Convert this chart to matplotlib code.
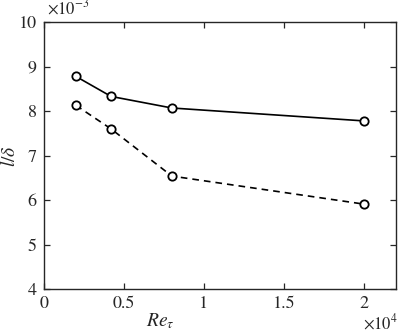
import matplotlib
matplotlib.use("Agg")
import matplotlib.pyplot as plt

plt.rcParams['font.family'] = ['STIXGeneral', 'Liberation Serif', 'DejaVu Serif']
plt.rcParams['mathtext.fontset'] = 'stix'

# data
re_tau = [2000, 4200, 8000, 20000]
l_delta_solid = [8.78e-3, 8.33e-3, 8.07e-3, 7.78e-3]
l_delta_dashed = [8.13e-3, 7.60e-3, 6.54e-3, 5.91e-3]
xticks = [0, 5000, 10000, 15000, 20000]
xtick_labels = ['0', '0.5', '1', '1.5', '2']
yticks = [4e-3, 5e-3, 6e-3, 7e-3, 8e-3, 9e-3, 10e-3]
ytick_labels = ['4', '5', '6', '7', '8', '9', '10']

axcol = '#262626'

fig = plt.figure(figsize=(3.99, 3.35), dpi=100)
ax = fig.add_axes([0.110, 0.137, 0.882, 0.797])

mk = dict(marker='o', markersize=6, markerfacecolor='white',
          markeredgecolor='black', markeredgewidth=1.3)
ax.plot(re_tau, l_delta_solid, '-', color='black', linewidth=1.2, **mk)
ax.plot(re_tau, l_delta_dashed, '--', color='black', linewidth=1.2,
        dashes=(4, 3), **mk)

ax.set_xlim(0, 22000)
ax.set_ylim(4e-3, 10e-3)
ax.set_xticks(xticks)
ax.set_xticklabels(xtick_labels)
ax.set_yticks(yticks)
ax.set_yticklabels(ytick_labels)

ax.tick_params(direction='in', length=4, width=0.9, colors=axcol,
               labelsize=13, top=True, right=True, pad=5)
for s in ax.spines.values():
    s.set_color(axcol)
    s.set_linewidth(1.0)

ax.set_xlabel(r'$Re_\tau$', fontsize=14, color=axcol)
ax.set_ylabel(r'$l/\delta$', fontsize=14, color=axcol)
ax.xaxis.set_label_coords(0.33, -0.085)
ax.yaxis.set_label_coords(-0.072, 0.5)

fig.text(0.118, 0.945, r'$\times10^{-3}$', fontsize=12, color=axcol,
         ha='left', va='bottom')
fig.text(0.998, 0.005, r'$\times10^{4}$', fontsize=12, color=axcol,
         ha='right', va='bottom')

fig.savefig('out.png', dpi=100)
